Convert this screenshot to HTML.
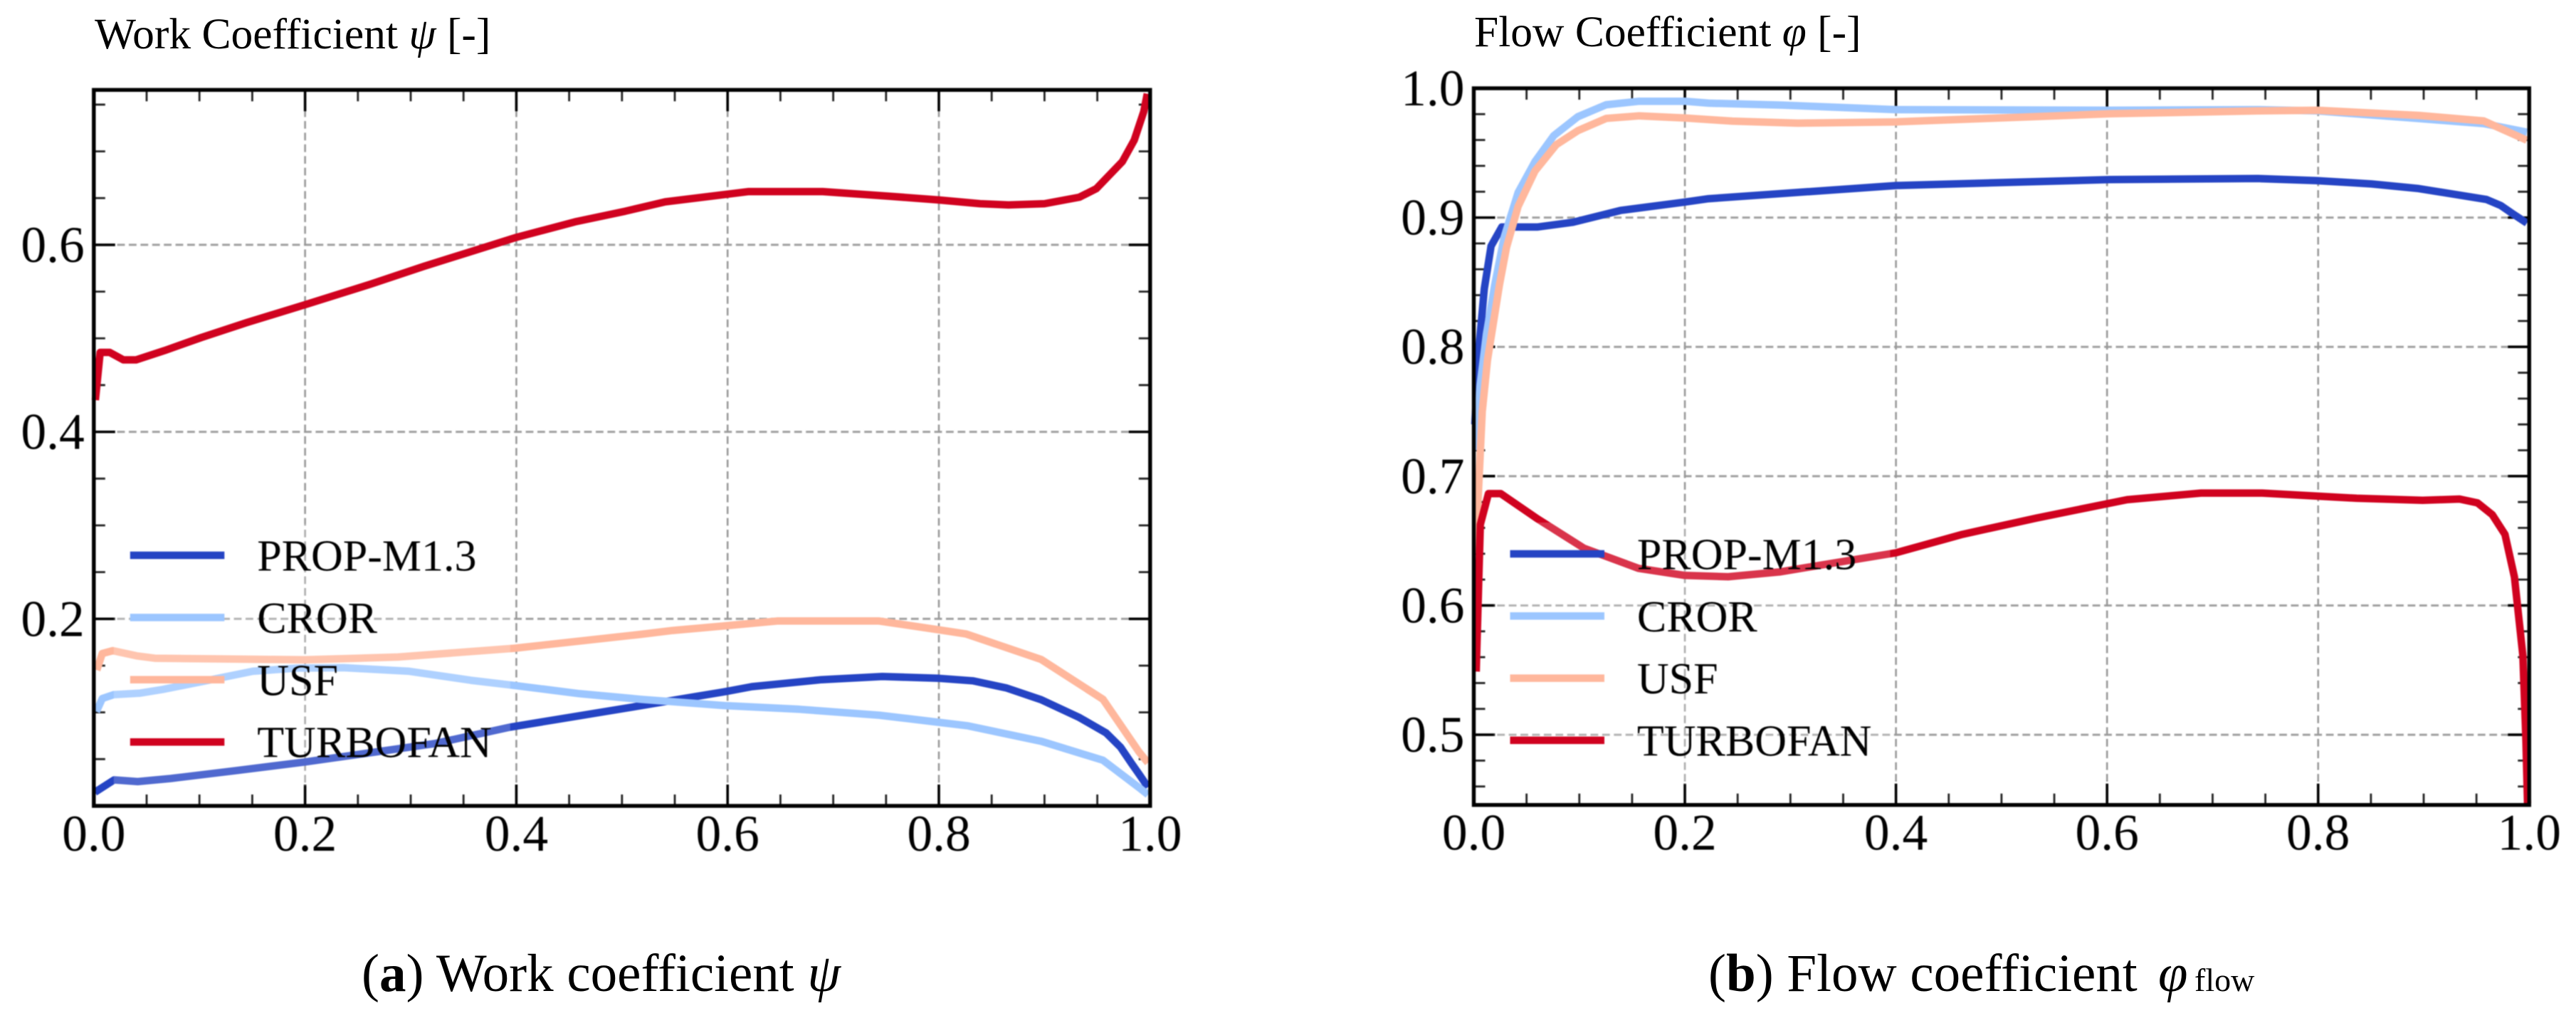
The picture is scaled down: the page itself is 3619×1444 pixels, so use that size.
<!DOCTYPE html>
<html lang="en">
<head>
<meta charset="utf-8">
<title>Work and flow coefficient charts</title>
<style>
  html, body { margin: 0; padding: 0; background: #fff; }
  svg { display: block; font-family: "Liberation Serif", "DejaVu Serif", serif; }
  text { fill: #000; }
</style>
</head>
<body>
<svg id="figure" xmlns="http://www.w3.org/2000/svg" width="3619" height="1444" viewBox="0 0 3619 1444">
  <rect x="0" y="0" width="3619" height="1444" fill="#ffffff"/>
  <g id="plots" style="filter: blur(0.7px)"></g>
  <text x="133" y="68" font-size="61.5">Work Coefficient <tspan font-style="italic">ψ</tspan> [-]</text>
  <text x="2071" y="65" font-size="61.5">Flow Coefficient <tspan font-style="italic">φ</tspan> [-]</text>
  <text x="508" y="1392" font-size="75">(<tspan font-weight="bold">a</tspan>) Work coefficient <tspan font-style="italic">ψ</tspan></text>
  <text x="2400" y="1392" font-size="75">(<tspan font-weight="bold">b</tspan>) Flow coefficient</text>
  <text x="3032" y="1392" font-size="75" font-style="italic">φ</text>
  <text x="3083" y="1392" font-size="46">flow</text>
</svg>
<script>
// ---------- shared axis data ----------
const xTickValues = [0, 0.2, 0.4, 0.6, 0.8, 1.0];
const xTickLabels = ['0.0', '0.2', '0.4', '0.6', '0.8', '1.0'];
const legendLabels = ['PROP-M1.3', 'CROR', 'USF', 'TURBOFAN'];
const seriesKeys = ['prop', 'cror', 'usf', 'turbofan'];
const seriesColors = ['#2544c4', '#9cc6ff', '#ffb79c', '#d0021f'];

// ---------- work coefficient chart ----------
const workYTickValues = [0.2, 0.4, 0.6];
const workYTickLabels = ['0.2', '0.4', '0.6'];

const workPropX = [0.001, 0.0192, 0.0416, 0.073, 0.136, 0.2, 0.3225, 0.3945, 0.518, 0.569, 0.599, 0.623, 0.689, 0.7464, 0.8, 0.832, 0.8636, 0.8968, 0.933, 0.9584, 0.972, 0.9825, 0.9895, 0.998];
const workPropY = [0.0146, 0.0278, 0.026, 0.0293, 0.0379, 0.047, 0.0666, 0.0843, 0.1072, 0.1168, 0.1224, 0.1275, 0.135, 0.1384, 0.1364, 0.1338, 0.1262, 0.1135, 0.0945, 0.078, 0.0628, 0.0453, 0.034, 0.02];

const workCrorX = [0.0024, 0.008, 0.019, 0.044, 0.065, 0.106, 0.1506, 0.192, 0.2366, 0.2985, 0.357, 0.398, 0.46, 0.518, 0.599, 0.668, 0.7434, 0.8, 0.8277, 0.8968, 0.9554, 0.9895, 0.998];
const workCrorY = [0.1008, 0.1148, 0.119, 0.1206, 0.1245, 0.1338, 0.144, 0.1473, 0.1478, 0.144, 0.1343, 0.1288, 0.12, 0.114, 0.1071, 0.1033, 0.097, 0.0894, 0.0856, 0.0691, 0.0488, 0.0196, 0.012];

const workUsfX = [0.0028, 0.008, 0.018, 0.0406, 0.0578, 0.116, 0.2, 0.288, 0.398, 0.518, 0.548, 0.599, 0.647, 0.7434, 0.8, 0.826, 0.8968, 0.9554, 0.9895, 0.998];
const workUsfY = [0.1452, 0.163, 0.166, 0.1604, 0.1579, 0.1572, 0.1562, 0.1592, 0.1686, 0.1835, 0.1876, 0.1927, 0.1977, 0.1977, 0.1883, 0.1838, 0.1566, 0.114, 0.0577, 0.046];

const workTurbofanX = [0.0015, 0.006, 0.015, 0.028, 0.04, 0.067, 0.102, 0.145, 0.2, 0.262, 0.3125, 0.355, 0.4, 0.457, 0.503, 0.541, 0.62, 0.69, 0.753, 0.8, 0.839, 0.866, 0.9, 0.933, 0.949, 0.9737, 0.985, 0.994, 0.9973];
const workTurbofanY = [0.434, 0.485, 0.485, 0.477, 0.477, 0.487, 0.501, 0.517, 0.536, 0.558, 0.577, 0.592, 0.608, 0.625, 0.636, 0.646, 0.657, 0.657, 0.652, 0.648, 0.644, 0.6427, 0.644, 0.651, 0.66, 0.689, 0.712, 0.7426, 0.7616];

// ---------- flow coefficient chart ----------
const flowYTickValues = [0.5, 0.6, 0.7, 0.8, 0.9, 1.0];
const flowYTickLabels = ['0.5', '0.6', '0.7', '0.8', '0.9', '1.0'];

const flowPropX = [0.001, 0.005, 0.01, 0.0164, 0.0265, 0.06, 0.094, 0.139, 0.2, 0.2225, 0.4, 0.603, 0.743, 0.799, 0.8506, 0.8953, 0.9595, 0.973, 0.9843, 0.9978];
const flowPropY = [0.74, 0.8, 0.845, 0.878, 0.8927, 0.8927, 0.8964, 0.9055, 0.912, 0.9146, 0.9248, 0.9294, 0.9302, 0.9286, 0.926, 0.9224, 0.914, 0.9093, 0.903, 0.8957];

const flowCrorX = [0.002, 0.006, 0.012, 0.0198, 0.0287, 0.042, 0.058, 0.0758, 0.0985, 0.1255, 0.1568, 0.2, 0.2225, 0.292, 0.4, 0.603, 0.743, 0.799, 0.8953, 0.957, 0.9978];
const flowCrorY = [0.72, 0.77, 0.81, 0.8478, 0.8846, 0.9194, 0.9433, 0.9634, 0.978, 0.9873, 0.99, 0.99, 0.9885, 0.987, 0.9835, 0.983, 0.9835, 0.9825, 0.9766, 0.9727, 0.966];

const flowUsfX = [0.002, 0.0036, 0.008, 0.013, 0.0243, 0.031, 0.042, 0.058, 0.078, 0.0985, 0.1255, 0.1568, 0.2, 0.245, 0.307, 0.4, 0.603, 0.743, 0.799, 0.8953, 0.957, 0.9978];
const flowUsfY = [0.64, 0.6733, 0.75, 0.79, 0.8478, 0.877, 0.9087, 0.936, 0.9563, 0.9672, 0.9767, 0.9787, 0.977, 0.9746, 0.973, 0.974, 0.9803, 0.9825, 0.983, 0.979, 0.9747, 0.9598];

const flowTurbofanX = [0.0023, 0.0062, 0.0139, 0.0256, 0.06, 0.1043, 0.156, 0.2, 0.241, 0.2896, 0.4, 0.463, 0.533, 0.619, 0.689, 0.747, 0.8366, 0.899, 0.934, 0.951, 0.965, 0.977, 0.986, 0.994, 0.9969, 0.9984];
const flowTurbofanY = [0.5489, 0.6626, 0.6865, 0.6865, 0.6672, 0.6443, 0.6287, 0.6232, 0.6222, 0.6259, 0.6407, 0.655, 0.6676, 0.6818, 0.6869, 0.6869, 0.6829, 0.6813, 0.6823, 0.6793, 0.6702, 0.655, 0.622, 0.561, 0.495, 0.447];

// ---------- drawing ----------
const SVG_NS = 'http://www.w3.org/2000/svg';
const plotsRoot = document.getElementById('plots');

function svgEl(tag, attrs, parent) {
  const el = document.createElementNS(SVG_NS, tag);
  for (const k in attrs) el.setAttribute(k, attrs[k]);
  parent.appendChild(el);
  return el;
}

function minorTicks(lo, hi, step) {
  const out = [];
  const n = Math.round((hi - lo) / step);
  for (let i = 0; i <= n; i++) out.push(lo + i * step);
  return out;
}

function drawChart(cfg) {
  const xScale = v => cfg.left + (cfg.right - cfg.left) * v;
  const yScale = v => cfg.bottom - (cfg.bottom - cfg.top) * (v - cfg.yMin) / (cfg.yMax - cfg.yMin);

  const root = svgEl('g', {}, plotsRoot);
  
  

  // gridlines
  const dash = '10.8 5.6';
  cfg.yTicks.forEach(v => {
    if (v >= cfg.yMax - 1e-9) return;
    const g = svgEl('line', { x1: cfg.left, x2: cfg.right, y1: yScale(v), y2: yScale(v), stroke: '#a0a0a0', 'stroke-width': 3, 'stroke-dasharray': dash }, root);
    
    
  });
  xTickValues.forEach(v => {
    if (v <= 0 || v >= 1) return;
    const g = svgEl('line', { x1: xScale(v), x2: xScale(v), y1: cfg.bottom, y2: cfg.top, stroke: '#999999', 'stroke-width': 2.6, 'stroke-dasharray': dash }, root);
    
    
  });

  // minor ticks
  minorTicks(0, 1, 0.05).forEach(v => {
    if (v <= 0 || v >= 1) return;
    [[cfg.top, cfg.top + 16], [cfg.bottom, cfg.bottom - 16]].forEach(p => {
      const t = svgEl('line', { x1: xScale(v), x2: xScale(v), y1: p[0], y2: p[1], stroke: '#222', 'stroke-width': 2.8 }, root);
      
      
    });
  });
  minorTicks(cfg.minorStart, cfg.yMax, cfg.minorStep).forEach(v => {
    if (v <= cfg.yMin || v >= cfg.yMax - 1e-9) return;
    [[cfg.left, cfg.left + 16], [cfg.right, cfg.right - 16]].forEach(p => {
      const t = svgEl('line', { x1: p[0], x2: p[1], y1: yScale(v), y2: yScale(v), stroke: '#222', 'stroke-width': 2.8 }, root);
      
      
    });
  });

  // major ticks
  xTickValues.forEach(v => {
    if (v <= 0 || v >= 1) return;
    [[cfg.top, cfg.top + 30], [cfg.bottom, cfg.bottom - 30]].forEach(p => {
      const t = svgEl('line', { x1: xScale(v), x2: xScale(v), y1: p[0], y2: p[1], stroke: '#000', 'stroke-width': 3.6 }, root);
      
      
    });
  });
  cfg.yTicks.forEach(v => {
    if (v >= cfg.yMax - 1e-9) return;
    [[cfg.left, cfg.left + 30], [cfg.right, cfg.right - 30]].forEach(p => {
      const t = svgEl('line', { x1: p[0], x2: p[1], y1: yScale(v), y2: yScale(v), stroke: '#000', 'stroke-width': 3.6 }, root);
      
      
    });
  });

  // series lines
  cfg.series.forEach((s, i) => {
    const pts = s.x.map((xv, j) => xScale(xv).toFixed(1) + ',' + yScale(s.y[j]).toFixed(1)).join(' ');
    const line = svgEl('polyline', { points: pts, fill: 'none', stroke: seriesColors[i], 'stroke-width': 10.5, 'stroke-linejoin': 'round' }, root);
    
    
  });

  // translucent legend background
  const patch = svgEl('rect', { x: cfg.left + 28, y: cfg.legendTop - 44, width: 557, height: 368, fill: '#ffffff', 'fill-opacity': 0.2 }, root);
  
  

  // legend entries
  legendLabels.forEach((label, i) => {
    const rowY = cfg.legendTop + i * cfg.legendStep;
    const entry = svgEl('g', {}, root);
    
    
    const handle = svgEl('line', { x1: cfg.left + 51, x2: cfg.left + 183.5, y1: rowY, y2: rowY, stroke: seriesColors[i], 'stroke-width': 10.5 }, entry);
    
    
    const text = svgEl('text', { x: cfg.left + 229.4, y: rowY + 21.5, 'font-size': 62 }, entry);
    
    
    text.textContent = label;
  });

  // spines
  const frame = svgEl('rect', { x: cfg.left, y: cfg.top, width: cfg.right - cfg.left, height: cfg.bottom - cfg.top, fill: 'none', stroke: '#000', 'stroke-width': 5.4 }, root);
  
  

  // tick labels
  xTickValues.forEach((v, i) => {
    const t = svgEl('text', { x: xScale(v), y: cfg.bottom + 63, 'font-size': 71.5, 'text-anchor': 'middle' }, root);
    
    
    t.textContent = xTickLabels[i];
  });
  cfg.yTicks.forEach((v, i) => {
    const t = svgEl('text', { x: cfg.left - 13, y: yScale(v) + 24, 'font-size': 71.5, 'text-anchor': 'end' }, root);
    
    
    t.textContent = cfg.yLabels[i];
  });
}

drawChart({
  name: 'work-coefficient-chart',
  left: 131.8, right: 1615.8, top: 126.3, bottom: 1132,
  yMin: 0, yMax: 0.7657,
  yTicks: workYTickValues, yLabels: workYTickLabels,
  minorStart: 0, minorStep: 0.05,
  legendTop: 780, legendStep: 87.4,
  series: [
    { x: workPropX, y: workPropY },
    { x: workCrorX, y: workCrorY },
    { x: workUsfX, y: workUsfY },
    { x: workTurbofanX, y: workTurbofanY }
  ]
});

drawChart({
  name: 'flow-coefficient-chart',
  left: 2070.5, right: 3553.3, top: 124, bottom: 1130.7,
  yMin: 0.4457, yMax: 1.0,
  yTicks: flowYTickValues, yLabels: flowYTickLabels,
  minorStart: 0.44, minorStep: 0.02,
  legendTop: 778, legendStep: 87.3,
  series: [
    { x: flowPropX, y: flowPropY },
    { x: flowCrorX, y: flowCrorY },
    { x: flowUsfX, y: flowUsfY },
    { x: flowTurbofanX, y: flowTurbofanY }
  ]
});
</script>
</body>
</html>
